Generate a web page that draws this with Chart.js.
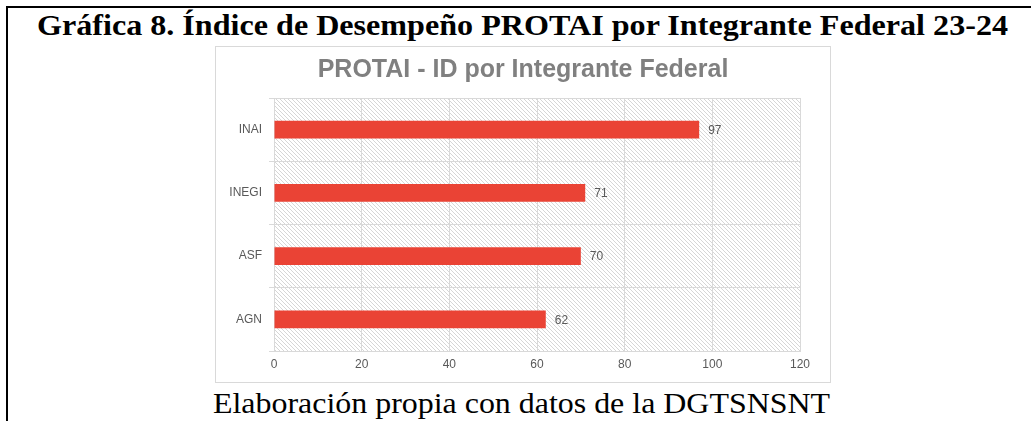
<!DOCTYPE html>
<html>
<head>
<meta charset="utf-8">
<script src="https://cdn.jsdelivr.net/npm/chart.js@4"></script>
<style>
body{margin:0;background:#fff;width:1031px;height:421px;overflow:hidden;position:relative}
.frame{position:absolute;left:6px;top:6px;width:1040px;height:430px;border-left:2px solid #000;border-top:2px solid #000}
.txt{position:absolute;white-space:nowrap;font-family:"Liberation Serif","Times New Roman",serif;color:#000;transform-origin:0 0;line-height:1}
#heading{font-weight:bold;font-size:30px;top:10px}
#caption{font-size:30px;top:388px}
#box{position:absolute;left:215px;top:46px;width:614px;height:335px;border:1px solid #d9d9d9;background:#fff}
</style>
</head>
<body>
<div class="frame"></div>
<div class="txt" id="heading">Gráfica 8. Índice de Desempeño PROTAI por Integrante Federal 23-24</div>
<div id="box"><canvas id="myChart" width="614" height="335"></canvas></div>
<div class="txt" id="caption">Elaboración propia con datos de la DGTSNSNT</div>
<script>
var labels = ["INAI", "INEGI", "ASF", "AGN"];
var values = [97, 71, 70, 62];
var xTicks = [0, 20, 40, 60, 80, 100, 120];

// stretch the serif texts to the width they take in the page
function fit(id, x0, x1){
    let el = document.getElementById(id);
    let w = el.getBoundingClientRect().width;
    el.style.left = x0 + "px";
    el.style.transform = "scaleX(" + ((x1 - x0) / w) + ")";
}
fit("heading", 37, 1008);
fit("caption", 213, 830);

// hatched plot background
let tile = document.createElement("canvas");
tile.width = 4;
tile.height = 4;
let tctx = tile.getContext("2d");
tctx.strokeStyle = "#d6d6d6";
tctx.lineWidth = 1;
tctx.beginPath();
tctx.moveTo(-1, -1);
tctx.lineTo(5, 5);
tctx.moveTo(-1, 3);
tctx.lineTo(1, 5);
tctx.moveTo(3, -1);
tctx.lineTo(5, 1);
tctx.stroke();

const hatch = {
    id: "hatch",
    beforeDraw(chart){
        let a = chart.chartArea;
        let ctx = chart.ctx;
        ctx.save();
        ctx.fillStyle = ctx.createPattern(tile, "repeat");
        ctx.fillRect(a.left, a.top, a.right - a.left, a.bottom - a.top);
        ctx.restore();
    }
};

const valueLabels = {
    id: "valueLabels",
    afterDatasetsDraw(chart){
        let ctx = chart.ctx;
        let meta = chart.getDatasetMeta(0);
        ctx.save();
        ctx.font = "12px 'Liberation Sans', Arial, sans-serif";
        ctx.fillStyle = "#595959";
        ctx.textBaseline = "middle";
        meta.data.forEach(function (bar, i){
            ctx.fillText(values[i], bar.x + 9, bar.y + 1);
        });
        ctx.restore();
    }
};

new Chart("myChart", {
    type: "bar",
    data: {
        labels: labels,
        datasets: [{
            data: values,
            backgroundColor: "#ea4335",
            barPercentage: 0.28,
            categoryPercentage: 1
        }]
    },
    plugins: [hatch, valueLabels],
    options: {
        indexAxis: "y",
        responsive: false,
        animation: false,
        devicePixelRatio: 1,
        layout: {
            padding: 0
        },
        plugins: {
            legend: {display: false},
            tooltip: {enabled: false},
            title: {
                display: true,
                text: "PROTAI - ID por Integrante Federal",
                color: "#808080",
                font: {family: "'Liberation Sans', Arial, sans-serif", size: 25, weight: "bold"},
                padding: {top: 8, bottom: 13}
            }
        },
        scales: {
            x: {
                min: xTicks[0],
                max: xTicks[xTicks.length - 1],
                ticks: {
                    stepSize: xTicks[1] - xTicks[0],
                    color: "#595959",
                    padding: 6,
                    font: {family: "'Liberation Sans', Arial, sans-serif", size: 12}
                },
                grid: {color: "#d9d9d9", drawTicks: false},
                border: {color: "#d9d9d9"},
                afterFit: function (s){ s.height = 31; }
            },
            y: {
                ticks: {
                    color: "#595959",
                    padding: 7,
                    font: {family: "'Liberation Sans', Arial, sans-serif", size: 12}
                },
                grid: {color: "#d9d9d9", tickLength: 5},
                border: {color: "#d9d9d9"},
                afterFit: function (s){ s.width = 58; }
            },
            // empty right-hand gap so the plot stops short of the box
            gap: {
                type: "linear",
                position: "right",
                grid: {display: false},
                border: {display: false},
                ticks: {display: false},
                afterFit: function (s){ s.width = 30; }
            }
        }
    }
});
</script>
</body>
</html>
